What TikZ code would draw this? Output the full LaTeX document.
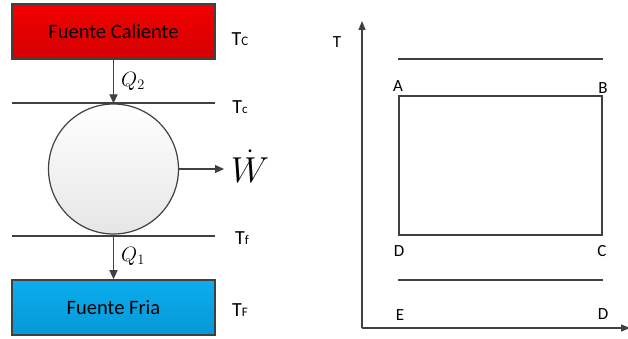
\documentclass[tikz,border=0pt]{standalone}
\usepackage{fontspec}
\setmainfont{Carlito}
\usetikzlibrary{arrows.meta,positioning}
\definecolor{engGray}{HTML}{404040}
\definecolor{hotTop}{HTML}{F20000}
\definecolor{hotBot}{HTML}{D40000}
\definecolor{coldTop}{HTML}{0BADEE}
\definecolor{coldBot}{HTML}{0898D6}
\tikzset{
  source/.style={
    draw=engGray,
    line width=1.6pt,
    minimum width=203pt,
    minimum height=55pt,
    inner sep=0pt,
    font=\fontsize{20.5}{24}\selectfont
  },
  engine/.style={
    circle,
    draw=engGray,
    line width=1.2pt,
    top color=white,
    bottom color=black!10,
    minimum size=130pt,
    inner sep=0pt
  },
  level/.style={draw=engGray, line width=1.2pt},
  axis/.style={-{Triangle[length=9pt,width=7pt]}, line width=1.2pt, draw=engGray},
  arrow/.style={-{Triangle[length=9pt,width=8pt]}, line width=1.2pt, draw=engGray},
  templabel/.style={inner sep=0pt, font=\fontsize{20}{24}\selectfont},
  heatlabel/.style={inner sep=0pt, font=\fontsize{21}{24}\selectfont},
  ptlabel/.style={inner sep=0pt, font=\fontsize{17}{20}\selectfont}
}
\newcommand{\sublet}[1]{{\fontsize{13}{15}\selectfont #1}}
\begin{document}
\begin{tikzpicture}[x=1pt, y=-1pt]
  \useasboundingbox (0,0) rectangle (628,339);

  % engine side
  \node[source, top color=hotTop, bottom color=hotBot] (hot) at (113.5,31.5) {Fuente Caliente};
  \node[source, top color=coldTop, bottom color=coldBot] (cold) at (113.5,307.5) {Fuente Fria};
  \node[engine] (motor) at (113.5,169) {};

  \coordinate (hiL) at (12,103);
  \coordinate (hiR) at (215,103);
  \coordinate (loL) at (12,236);
  \coordinate (loR) at (215,236);
  \draw[level] (hiL) -- (hiR);
  \draw[level] (loL) -- (loR);

  \coordinate (work) at (224,169);
  \draw[arrow] (hot) -- (motor);
  \draw[arrow] (motor.south) -- (cold);
  \draw[arrow] (motor) -- (work);

  \node[heatlabel] (q2) at (133,81) {$Q_2$};
  \node[heatlabel] (q1) at (133,256) {$Q_1$};
  \node[inner sep=0pt, scale=1.45, font=\fontsize{24}{28}\selectfont] (wdot) at (250,166) {$\dot{W}$};

  \node[templabel] (tHot) at (240,39) {T\sublet{C}};
  \node[templabel] (tHi) at (240,107) {T\sublet{c}};
  \node[templabel] (tLo) at (242,238) {T\sublet{f}};
  \node[templabel] (tCold) at (240,310) {T\sublet{F}};

  % T-S diagram
  \coordinate (orig) at (362,328);
  \coordinate (yTip) at (362,21);
  \coordinate (xTip) at (630,328);
  \draw[axis] (orig) -- (yTip);
  \draw[axis] (orig) -- (xTip);
  \node[ptlabel] (tAxis) at (337,42) {T};

  \coordinate (topL) at (398,59);
  \coordinate (topR) at (603,59);
  \coordinate (botL) at (398,280);
  \coordinate (botR) at (603,280);
  \draw[level] (topL) -- (topR);
  \draw[level] (botL) -- (botR);

  \coordinate (ptA) at (399,96);
  \coordinate (ptB) at (602,96);
  \coordinate (ptC) at (602,235);
  \coordinate (ptD) at (399,235);
  \draw[level] (ptA) -- (ptB) -- (ptC) -- (ptD) -- cycle;

  \node[ptlabel] (lblA) at (398,86) {A};
  \node[ptlabel] (lblB) at (603,88) {B};
  \node[ptlabel] (lblC) at (602,251) {C};
  \node[ptlabel] (lblD) at (399,251) {D};
  \node[ptlabel] (lblE) at (400,315) {E};
  \node[ptlabel] (lblF) at (603,314) {D};
\end{tikzpicture}
\end{document}
